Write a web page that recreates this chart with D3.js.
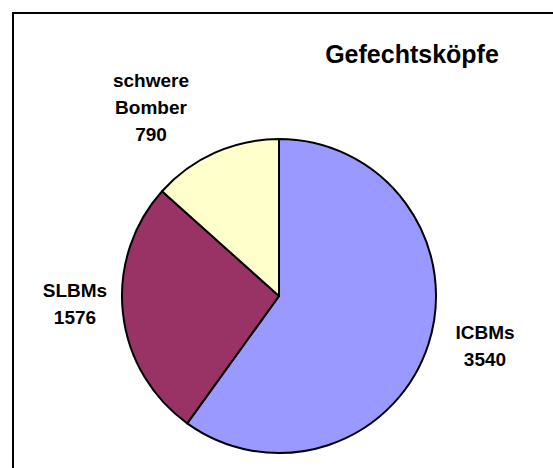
<!DOCTYPE html>
<html>
<head>
<meta charset="utf-8">
<script src="https://cdn.jsdelivr.net/npm/d3@7"></script>
<style>
  body { margin: 0; background: #fff; }
  text { font-family: "Liberation Sans", Arial, sans-serif; font-weight: bold; fill: #000; }
</style>
</head>
<body>
<div id="chart"></div>
<script>
// chart data
var categories = ["ICBMs", "SLBMs", "schwere Bomber"];
var values = [3540, 1576, 790];
var colors = ["#9999FF", "#993366", "#FFFFCC"];
var titleText = "Gefechtsköpfe";

// label text lines and where each label block sits
var labelLines = [["ICBMs", "3540"], ["SLBMs", "1576"], ["schwere", "Bomber", "790"]];
var labelPos = [[485, 339], [75, 297], [151, 87]];

var svgWidth = 553;
var svgHeight = 468;
var cx = 279, cy = 296, radius = 157;
var lineGap = 27;

var svg = d3.select("#chart")
  .append("svg")
  .attr("width", svgWidth)
  .attr("height", svgHeight);

// outer frame (runs off the right and bottom edge)
svg.append("rect")
  .attr("x", 13)
  .attr("y", 13)
  .attr("width", 700)
  .attr("height", 700)
  .attr("fill", "none")
  .attr("stroke", "#000")
  .attr("stroke-width", 2);

// title
svg.append("text")
  .attr("x", 412)
  .attr("y", 63)
  .attr("text-anchor", "middle")
  .style("font-size", "25px")
  .text(titleText);

var data = categories.map(function(c, i) {
  return { name: c, value: values[i], color: colors[i] };
});

var pie = d3.pie()
  .sort(null)
  .value(d => d.value);

var arc = d3.arc()
  .innerRadius(0)
  .outerRadius(radius);

var pieGroup = svg.append("g")
  .attr("transform", `translate(${cx}, ${cy})`);

pieGroup.selectAll("path")
  .data(pie(data))
  .enter()
  .append("path")
  .attr("d", arc)
  .attr("fill", d => d.data.color)
  .attr("stroke", "#000")
  .attr("stroke-width", 2)
  .attr("stroke-linejoin", "round");

// slice labels
var labels = svg.selectAll("text.slabel")
  .data(labelLines)
  .enter()
  .append("text")
  .attr("class", "slabel")
  .attr("text-anchor", "middle")
  .style("font-size", "19px");

labels.each(function(lines, i) {
  var t = d3.select(this);
  lines.forEach(function(line, j) {
    t.append("tspan")
      .attr("x", labelPos[i][0])
      .attr("y", labelPos[i][1] + j * lineGap)
      .text(line);
  });
});
</script>
</body>
</html>
